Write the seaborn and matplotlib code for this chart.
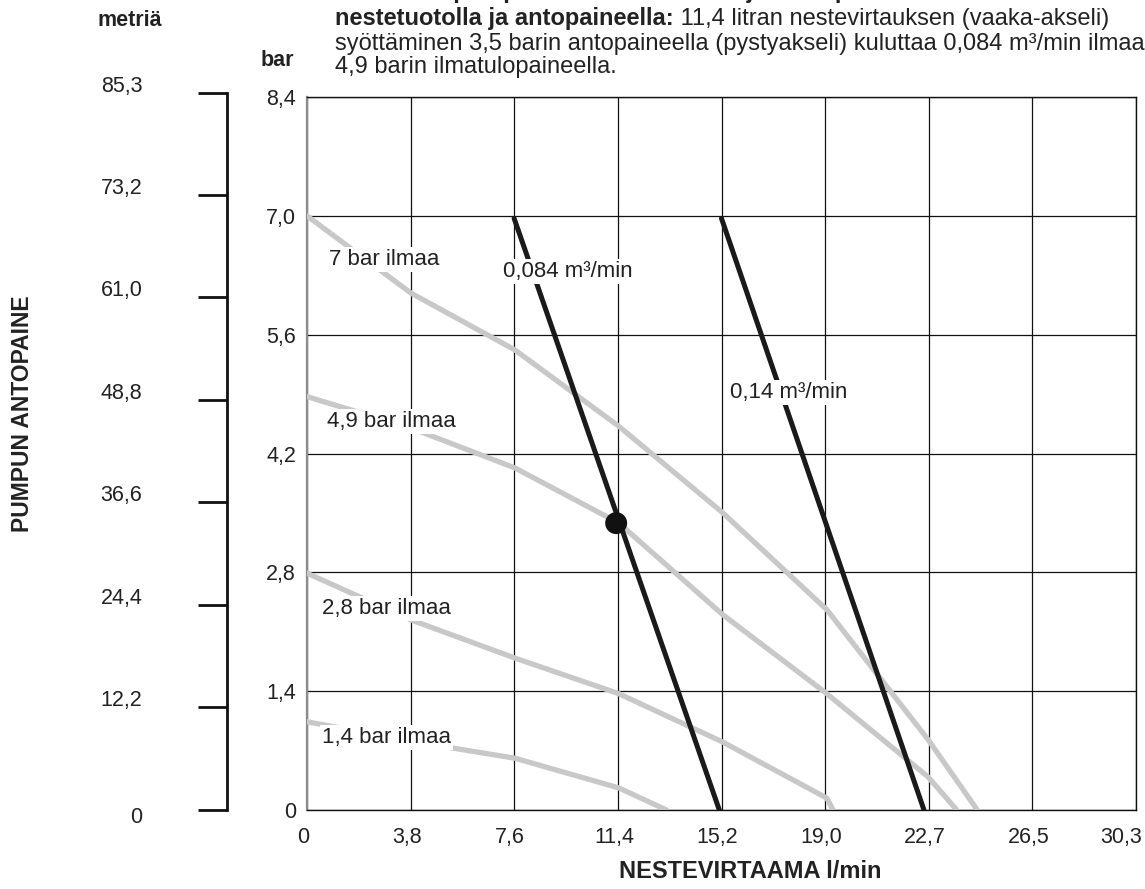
import numpy as np
import pandas as pd
import seaborn as sns
import matplotlib.pyplot as plt
from matplotlib import font_manager
from matplotlib.transforms import ScaledTranslation

# tick labels as printed on the chart
flow_labels = ["0", "3,8", "7,6", "11,4", "15,2", "19,0", "22,7", "26,5", "30,3"]
bar_labels = ["0", "1,4", "2,8", "4,2", "5,6", "7,0", "8,4"]
metre_labels = ["0", "12,2", "24,4", "36,6", "48,8", "61,0", "73,2", "85,3"]
metre_values = [0, 12.2, 24.4, 36.6, 48.8, 61.0, 73.2, 85.3]

# air inlet pressure curves (flow l/min, outlet pressure bar)
air_7_flow = [0, 3.8, 7.6, 11.4, 15.2, 19.0, 22.7, 24.5]
air_7_bar = [7.0, 6.09, 5.42, 4.52, 3.50, 2.36, 0.83, 0]
air_49_flow = [0, 3.8, 7.6, 11.4, 15.2, 19.0, 22.7, 23.75]
air_49_bar = [4.87, 4.50, 4.03, 3.38, 2.30, 1.37, 0.39, 0]
air_28_flow = [0, 3.8, 7.6, 11.4, 15.2, 19.0, 19.23]
air_28_bar = [2.79, 2.24, 1.79, 1.37, 0.80, 0.14, 0]
air_14_flow = [0, 3.8, 7.6, 11.4, 13.14]
air_14_bar = [1.04, 0.81, 0.61, 0.26, 0]

# air consumption lines
cons_084_flow = [7.57, 15.07]
cons_084_bar = [6.97, 0]
cons_14_flow = [15.15, 22.55]
cons_14_bar = [6.97, 0]

# example operating point
point_flow = [11.3]
point_bar = [3.38]

W, H = 1145, 889
INK = "#222222"


def px(x, y):
    return x / W, 1 - y / H


def shift(artist, dx, dy):
    # move a text artist by a few pixels
    artist.set_transform(artist.get_transform() +
                         ScaledTranslation(dx / 100, -dy / 100, fig.dpi_scale_trans))


def long_frame(curves):
    rows = []
    for name, xs, ys in curves:
        for x, y in zip(xs, ys):
            rows.append({"curve": name, "flow": x, "bar": y})
    return pd.DataFrame(rows)


sns.set_style("white")
plt.rcParams["font.family"] = ["Liberation Sans", "DejaVu Sans"]
installed = {f.name for f in font_manager.fontManager.ttflist}
if "Liberation Sans Narrow" in installed:
    narrow, narrow_size = ["Liberation Sans Narrow", "DejaVu Sans"], 20
else:
    narrow, narrow_size = ["Liberation Sans", "DejaVu Sans"], 16.5

fig = plt.figure(figsize=(W / 100, H / 100), dpi=100)
ax = fig.add_axes([307 / W, 79 / H, 829 / W, 713 / H])

air = long_frame([
    ("7 bar", air_7_flow, air_7_bar),
    ("4,9 bar", air_49_flow, air_49_bar),
    ("2,8 bar", air_28_flow, air_28_bar),
    ("1,4 bar", air_14_flow, air_14_bar),
])
cons = long_frame([
    ("0,084", cons_084_flow, cons_084_bar),
    ("0,14", cons_14_flow, cons_14_bar),
])

sns.lineplot(data=air, x="flow", y="bar", units="curve", estimator=None,
             sort=False, color="#c8c8c8", lw=3.8, ax=ax, zorder=3)
sns.lineplot(data=cons, x="flow", y="bar", units="curve", estimator=None,
             sort=False, color="#1a1a1a", lw=3.6, ax=ax, zorder=4)
sns.scatterplot(x=point_flow, y=point_bar, s=250, color="#111111",
                edgecolor="none", ax=ax, zorder=6)

ax.set_xlim(0, 30.3)
ax.set_ylim(0, 8.4)
ax.set_xticks(np.arange(len(flow_labels)) * 30.3 / 8)
ax.set_xticklabels(flow_labels)
ax.set_yticks(np.arange(len(bar_labels)) * 1.4)
ax.set_yticklabels(bar_labels)
ax.tick_params(length=0, labelsize=15.5, colors=INK, pad=8)
ax.tick_params(axis="x", pad=12)
for lab in ax.get_xticklabels():
    shift(lab, -4, 0)
shift(ax.get_xticklabels()[-1], -11, 0)
ax.grid(True, color="#111111", lw=0.9)
ax.set_xlabel("")
ax.set_ylabel("")
for side in ["top", "right", "bottom"]:
    ax.spines[side].set_color("#111111")
    ax.spines[side].set_linewidth(1.0)
ax.spines["left"].set_color("#8c8c8c")
ax.spines["left"].set_linewidth(1.6)

# curve labels
box = dict(facecolor="white", edgecolor="none", pad=1.5)
labels = [
    ("7 bar ilmaa", 0.80, 6.48),
    ("4,9 bar ilmaa", 0.73, 4.58),
    ("2,8 bar ilmaa", 0.55, 2.37),
    ("1,4 bar ilmaa", 0.55, 0.85),
    ("0,084 m³/min", 7.16, 6.35),
    ("0,14 m³/min", 15.46, 4.92),
]
for txt, x, y in labels:
    ax.text(x, y, txt, fontsize=16, color=INK, ha="left", va="center",
            bbox=box, zorder=5)

# metre scale bracket
ax2 = fig.add_axes([227 / W, 79 / H, 0.001, 717 / H])
ax2.set_ylim(0, 85.3)
ax2.set_yticks(metre_values)
ax2.set_yticklabels(metre_labels)
ax2.set_xticks([])
ax2.patch.set_visible(False)
for side in ["top", "right", "bottom"]:
    ax2.spines[side].set_visible(False)
ax2.spines["left"].set_linewidth(2.0)
ax2.spines["left"].set_color("#111111")
ax2.tick_params(axis="y", left=True, direction="out", length=21, width=2.0,
                color="#111111", labelsize=15.5, labelcolor=INK, pad=40)
for i, lab in enumerate(ax2.get_yticklabels()):
    shift(lab, 0, 5 if i == 0 else -9)

# axis titles
fig.text(*px(130, 20), "metriä", fontsize=15.5, fontweight="bold", ha="center", va="center", color=INK)
fig.text(*px(277, 60), "bar", fontsize=15.5, fontweight="bold", ha="center", va="center", color=INK)
fig.text(*px(750, 872), "NESTEVIRTAAMA l/min", fontsize=17, fontweight="bold", ha="center", va="center", color=INK)
fig.text(*px(23, 414), "PUMPUN ANTOPAINE", fontsize=narrow_size, fontweight="bold", family=narrow,
         rotation=90, ha="center", va="center", color=INK)

# header text (first line runs off the top of the page)
fig.text(*px(335, -2), "Esimerkki pumpun ilmankulutuksen ja ilmanpaineen määrittämisestä tietyllä",
         fontsize=17, fontweight="bold", ha="left", va="baseline", color=INK)
head = fig.text(*px(335, 25), "nestetuotolla ja antopaineella:", fontsize=17,
                fontweight="bold", ha="left", va="baseline", color=INK)
ax.annotate(" 11,4 litran nestevirtauksen (vaaka-akseli)", xy=(1, 0), xycoords=head,
            fontsize=17, ha="left", va="bottom", color=INK, annotation_clip=False)
fig.text(*px(335, 50), "syöttäminen 3,5 barin antopaineella (pystyakseli) kuluttaa 0,084 m³/min ilmaa",
         fontsize=17, ha="left", va="baseline", color=INK)
fig.text(*px(335, 73), "4,9 barin ilmatulopaineella.", fontsize=17,
         ha="left", va="baseline", color=INK)

fig.savefig("out.png", dpi=100)
